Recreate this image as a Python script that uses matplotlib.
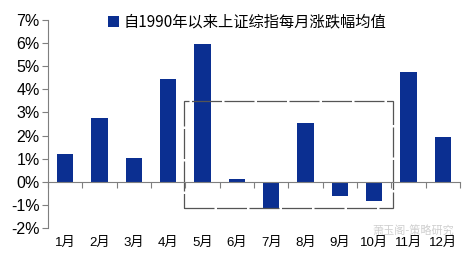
import numpy as np
import matplotlib.pyplot as plt
from matplotlib.patches import Rectangle

plt.rcParams['font.family'] = ['Liberation Sans', 'Noto Sans CJK SC', 'DejaVu Sans']

months = ['1月', '2月', '3月', '4月', '5月', '6月', '7月', '8月', '9月', '10月', '11月', '12月']
avg_change = [1.22, 2.77, 1.05, 4.44, 5.97, 0.12, -1.14, 2.55, -0.61, -0.84, 4.74, 1.92]
yticks = [-2, -1, 0, 1, 2, 3, 4, 5, 6, 7]
legend_label = '自1990年以来上证综指每月涨跌幅均值'

bar_color = '#0b2f91'
axis_color = '#7f7f7f'

fig = plt.figure(figsize=(4.71, 2.59), dpi=100)
ax = fig.add_axes([48 / 471, 31 / 259, 412 / 471, 208 / 259])

x = np.arange(len(months))
ax.bar(x, avg_change, width=0.47, color=bar_color, label=legend_label)

ax.set_xlim(-0.5, len(months) - 0.5)
ax.set_ylim(-2, 7)
ax.set_yticks(yticks)
ax.set_yticklabels([f'{v}%' for v in yticks], fontsize=11.5)

# x axis drawn on the zero line, ticks at category boundaries
ax.spines['bottom'].set_position(('data', 0))
ax.set_xticks(np.arange(-0.5, len(months), 1.0))
ax.set_xticklabels([])
for i, m in enumerate(months):
    ax.text(i, -2.4, m, ha='center', va='top', fontsize=9.5,
            family=['Liberation Sans', 'Noto Sans CJK SC'])

for side in ['top', 'right']:
    ax.spines[side].set_visible(False)
for side in ['left', 'bottom']:
    ax.spines[side].set_color(axis_color)
ax.tick_params(axis='both', colors=axis_color, length=4, width=0.8, labelcolor='black')
ax.tick_params(axis='y', pad=2)

# highlighted box for May-October
rect = Rectangle((3.46, -1.15), 6.08, 4.65, fill=False, edgecolor='#555555',
                 linewidth=0.9, linestyle=(0, (24, 2)), clip_on=False)
ax.add_patch(rect)

fig.legend(loc='upper center', bbox_to_anchor=(0.525, 1.0), frameon=False,
           handlelength=0.7, handleheight=0.7, handletextpad=0.3,
           prop={'family': ['Noto Sans CJK SC'], 'size': 11})

fig.text(0.965, 0.088, '萧玉阁-策略研究', ha='right', va='bottom', fontsize=8,
         color='#bbbbbb', alpha=0.7, family=['Noto Sans CJK SC'])

fig.savefig('out.png', dpi=100)
